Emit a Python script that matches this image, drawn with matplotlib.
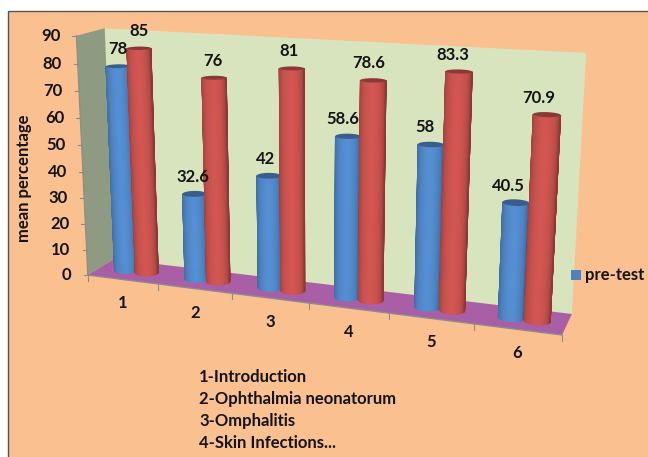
import numpy as np
import matplotlib
matplotlib.use('Agg')
import matplotlib.pyplot as plt
from matplotlib.collections import PolyCollection
from matplotlib.patches import Polygon, Rectangle

plt.rcParams['font.family'] = ['Lato', 'DejaVu Sans']

categories = ['1', '2', '3', '4', '5', '6']
pre_test = [78, 32.6, 42, 58.6, 58, 40.5]
post_test = [85, 76, 81, 78.6, 83.3, 70.9]
y_ticks = [0, 10, 20, 30, 40, 50, 60, 70, 80, 90]
topics = ['1-Introduction', '2-Ophthalmia neonatorum', '3-Omphalitis', '4-Skin Infections...']

BLUE = np.array([0x55, 0x8E, 0xD2]) / 255
RED = np.array([0xD2, 0x56, 0x52]) / 255
BG = '#FBC08F'
TXT = '#141414'

# box corners (category, depth, value) -> picture pixels, used to fit the camera
BOX_REF = [
    ((0, 0, 0), (89, 274)), ((0, 0, 90), (75, 36)),
    ((0, 1, 0), (113, 260)), ((0, 1, 90), (106, 28)),
    ((6, 1, 0), (572, 313)), ((6, 1, 90), (586, 53)),
    ((6, 0, 0), (562, 336)), ((3, 0, 0), (309, 303)),
]


def fit_camera(refs):
    rows, rhs = [], []
    for (u, d, v), (x, y) in refs:
        p = [u / 6, d, v / 90, 1]
        rows.append(p + [0, 0, 0, 0] + [-x * c for c in p[:3]])
        rhs.append(x)
        rows.append([0, 0, 0, 0] + p + [-y * c for c in p[:3]])
        rhs.append(y)
    sol = np.linalg.lstsq(np.array(rows, float), np.array(rhs, float), rcond=None)[0]
    return np.append(sol, 1).reshape(3, 4)


CAM = fit_camera(BOX_REF)


def project(u, d, v):
    u, d, v = np.broadcast_arrays(np.asarray(u, float), np.asarray(d, float), np.asarray(v, float))
    pts = np.stack([u / 6, d, v / 90, np.ones_like(u)])
    w = np.tensordot(CAM, pts, axes=1)
    return w[0] / w[2], w[1] / w[2]


def face(ax, corners, color, z=1):
    xy = np.array([project(*c) for c in corners])
    ax.add_patch(Polygon(xy, closed=True, facecolor=color, edgecolor='none', zorder=z))


def cylinder(ax, u, value, color, z):
    r, rd, d = 0.15, 0.2, 0.5
    t = np.linspace(0, 2 * np.pi, 145)[:-1]
    cu, cd = u + r * np.cos(t), d + rd * np.sin(t)
    xb, yb = project(cu, cd, 0)
    xt, yt = project(cu, cd, value)
    # front of the cylinder: the arc from leftmost to rightmost point
    i0, i1 = np.argmin(xb), np.argmax(xb)
    idx = (i0 + np.arange((i1 - i0) % len(t) + 1)) % len(t)
    s = (xb[idx[:-1]] - xb[i0]) / (xb[i1] - xb[i0]) * 2 - 1
    polys, cols = [], []
    for k in range(len(idx) - 1):
        a, b = idx[k], idx[k + 1]
        polys.append([(xt[a], yt[a]), (xt[b], yt[b]), (xb[b], yb[b]), (xb[a], yb[a])])
        shade = 0.66 + 0.34 * max(0.0, 1 - (s[k] + 0.05) ** 2) ** 0.5
        cols.append(np.clip(color * shade, 0, 1))
    ax.add_collection(PolyCollection(polys, facecolors=cols, edgecolors=cols, linewidths=0.4, zorder=z))
    ax.add_patch(Polygon(np.c_[xt, yt], closed=True, facecolor=color * 0.66, edgecolor='none', zorder=z + 0.1))


def main():
    fig = plt.figure(figsize=(6.48, 4.57), dpi=100, facecolor='white')
    ax = fig.add_axes([0, 0, 1, 1])
    ax.set_xlim(0, 648)
    ax.set_ylim(457, 0)
    ax.axis('off')

    ax.add_patch(Rectangle((8, 11), 660, 470, facecolor=BG, edgecolor='#555555', linewidth=1, zorder=0))

    # walls and floor of the box
    face(ax, [(0, 1, 0), (6, 1, 0), (6, 1, 90), (0, 1, 90)], '#D8E4BD')
    face(ax, [(0, 0, 0), (0, 1, 0), (0, 1, 90), (0, 0, 90)], '#8E9A82')
    face(ax, [(0, 0, 0), (6, 0, 0), (6, 1, 0), (0, 1, 0)], '#A95FA6')

    # axis lines and ticks
    gray = '#8C8C8C'
    x0, y0 = project(0, 0, [0, 90])
    ax.plot(x0, y0, color=gray, lw=0.8, zorder=2)
    x1, y1 = project([0, 6], 0, 0)
    ax.plot(x1, y1, color=gray, lw=1, zorder=2)
    for v in y_ticks:
        x, y = project(0, 0, v)
        ax.plot([x - 4, x], [y, y], color=gray, lw=0.8, zorder=2)
        ax.text(x - 16, y, str(v), ha='right', va='center', fontsize=12, fontweight='bold', color=TXT, zorder=6)
    for i in range(len(categories) + 1):
        x, y = project(i, 0, 0)
        ax.plot([x, x], [y, y + 6], color=gray, lw=0.8, zorder=2)
    for i, name in enumerate(categories):
        x, y = project(i + 0.5, 0, 0)
        ax.text(x, y + 24, name, ha='center', va='center', fontsize=12, fontweight='bold', color=TXT, zorder=6)

    # cylinders and value labels
    for i in range(len(categories)):
        cylinder(ax, i + 0.36, pre_test[i], BLUE, 3 + i * 0.01)
        cylinder(ax, i + 0.66, post_test[i], RED, 4 + i * 0.01)
        for u, val in ((i + 0.36, pre_test[i]), (i + 0.66, post_test[i])):
            x, y = project(u, 0.5, val)
            ax.text(x - 1.6 * i, y - 17, f'{val:g}', ha='center', va='center', fontsize=12,
                    fontweight='bold', color=TXT, zorder=6)

    ax.text(24, 178, 'mean percentage', rotation=90, ha='center', va='center', fontsize=12,
            fontweight='bold', color=TXT)

    # cut-off legend
    ax.add_patch(Rectangle((571, 270), 10, 10, facecolor='#4F81BD', edgecolor='none', zorder=5))
    ax.text(585, 275, 'pre-test', ha='left', va='center', fontsize=12, fontweight='bold', color=TXT)

    for k, line in enumerate(topics):
        ax.text(199, 377 + k * 22, line, ha='left', va='center', fontsize=12, fontweight='bold', color=TXT)

    fig.savefig('out.png', dpi=100, facecolor='white')
    plt.close(fig)


if __name__ == '__main__':
    main()
